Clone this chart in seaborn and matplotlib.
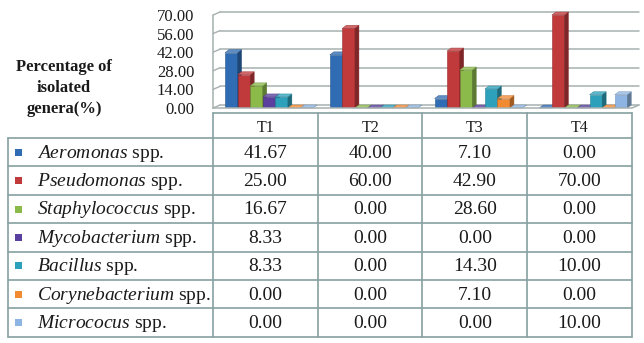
import numpy as np
import pandas as pd
import matplotlib
matplotlib.use("Agg")
import matplotlib.pyplot as plt
import matplotlib.colors as mcolors
from matplotlib.patches import Polygon, Rectangle
from matplotlib.lines import Line2D
from matplotlib.transforms import Affine2D, IdentityTransform
import seaborn as sns

# ---------------- data ----------------
treatments = ["T1", "T2", "T3", "T4"]
genera = ["Aeromonas", "Pseudomonas", "Staphylococcus", "Mycobacterium",
          "Bacillus", "Corynebacterium", "Micrococus"]
aeromonas = [41.67, 40.00, 7.10, 0.00]
pseudomonas = [25.00, 60.00, 42.90, 70.00]
staphylococcus = [16.67, 0.00, 28.60, 0.00]
mycobacterium = [8.33, 0.00, 0.00, 0.00]
bacillus = [8.33, 0.00, 14.30, 10.00]
corynebacterium = [0.00, 0.00, 7.10, 0.00]
micrococus = [0.00, 0.00, 0.00, 10.00]
y_ticks = [0, 14, 28, 42, 56, 70]
y_label = "Percentage of\nisolated\ngenera(%)"
colors = ["#2f6cb3", "#c03a3c", "#8cba4a", "#5a3f9e", "#2da1bb", "#f28a32", "#8db4e2"]

series = [aeromonas, pseudomonas, staphylococcus, mycobacterium,
          bacillus, corynebacterium, micrococus]
df = pd.DataFrame(
    [(t, g, v) for g, vals in zip(genera, series) for t, v in zip(treatments, vals)],
    columns=["Treatment", "Genus", "Value"],
)

# ---------------- style ----------------
sns.set_theme(style="white")
plt.rcParams["font.family"] = ["Liberation Serif", "DejaVu Serif"]
plt.rcParams["mathtext.fontset"] = "custom"
plt.rcParams["mathtext.rm"] = "Liberation Serif"
plt.rcParams["mathtext.it"] = "Liberation Serif:italic"
text_color = "#1a1a1a"
grid_color = "#a7b0b0"
table_color = "#86a0a0"

W, H = 644, 343
fig = plt.figure(figsize=(W / 100, H / 100), dpi=100)
fig.patch.set_facecolor("white")

def fx(px):
    return px / W

def fy(py):
    return 1 - py / H

ax_left, ax_right, ax_top, ax_bot = 213, 632, 15, 108
ax = fig.add_axes([fx(ax_left), fy(ax_bot), (ax_right - ax_left) / W, (ax_bot - ax_top) / H])
ax.set_facecolor("none")

sns.barplot(data=df, x="Treatment", y="Value", hue="Genus", order=treatments,
            hue_order=genera, palette=colors, width=0.84, saturation=1,
            legend=False, ax=ax)

ymax = y_ticks[-1]
px_per_x = (ax_right - ax_left) / len(treatments)
px_per_y = (ax_bot - ax_top) / ymax
dpx, dpy = 4.0, 3.0
ddx, ddy = dpx / px_per_x, dpy / px_per_y

for i, cont in enumerate(ax.containers):
    base = np.array(mcolors.to_rgb(colors[i]))
    side = tuple(base * 0.66)
    top = tuple(base + (1 - base) * 0.22)
    z = 3 + i * 0.1
    for bar in cont:
        x0, w, h = bar.get_x(), bar.get_width(), bar.get_height()
        x1 = x0 + w
        bar.set_zorder(z)
        bar.set_edgecolor(tuple(base * 0.8))
        bar.set_linewidth(0.4)
        ax.add_patch(Polygon([(x1, 0), (x1 + ddx, ddy), (x1 + ddx, h + ddy), (x1, h)],
                             closed=True, fc=side, ec=side, lw=0.3, zorder=z + 0.05, clip_on=False))
        ax.add_patch(Polygon([(x0, h), (x0 + ddx, h + ddy), (x1 + ddx, h + ddy), (x1, h)],
                             closed=True, fc=top, ec=tuple(base * 0.8), lw=0.3, zorder=z + 0.05, clip_on=False))

ax.set_xlim(-0.5 - 0.035, len(treatments) - 0.5 - 0.035)
ax.set_ylim(0, ymax)
ax.set_xticks([])
ax.set_yticks(y_ticks)
ax.set_yticklabels([f"{v:.2f}" for v in y_ticks])
ax.tick_params(axis="y", length=0, pad=13.5, labelsize=12, labelcolor=text_color)
ax.set_xlabel("")
ax.set_ylabel("")
for s in ax.spines.values():
    s.set_visible(False)

# back-wall gridlines (offset for 3D depth)
wall_shift = Affine2D().translate(7, 3)
for v in y_ticks:
    gl = ax.axhline(v, color=grid_color, lw=1.1, zorder=0.5)
    gl.set_transform(ax.get_yaxis_transform() + wall_shift)
    gl.set_clip_on(False)

# left wall and floor edges
ytr = ax.get_yaxis_transform()
ident = IdentityTransform()
for v in y_ticks:
    p0 = ytr.transform((0, v))
    fig.add_artist(Line2D([p0[0], p0[0] + 7], [p0[1], p0[1] + 3], color=grid_color,
                          lw=1.0, transform=ident, zorder=0.5))
pb = ytr.transform((0, 0))
pt = ytr.transform((0, ymax))
fig.add_artist(Line2D([pb[0], pt[0]], [pb[1], pt[1]], color=grid_color, lw=1.1,
                      transform=ident, zorder=0.5))
pr = ax.transAxes.transform((1, 0))
fig.add_artist(Line2D([pb[0], pr[0], pr[0] + 7], [pb[1], pr[1], pr[1] + 3],
                      color=grid_color, lw=1.1, transform=ident, zorder=0.5))

# y label
fig.text(fx(64), fy(88), y_label, ha="center", va="center", fontsize=12,
         fontweight="bold", linespacing=1.4, color=text_color)

# ---------------- data table ----------------
tax = fig.add_axes([0, 0, 1, 1], zorder=-1)
tax.set_xlim(0, W)
tax.set_ylim(H, 0)
tax.axis("off")

table_left = 8
col_edges = np.linspace(ax_left, ax_right, len(treatments) + 1)
header_top, header_bot = 113, 138
row_h = 28.4
row_edges = header_bot + row_h * np.arange(len(genera) + 1)
lw_t = 1.2

tax.plot([col_edges[0], col_edges[-1]], [header_top, header_top], color=table_color, lw=lw_t)
for ye in row_edges:
    tax.plot([table_left, col_edges[-1]], [ye, ye], color=table_color, lw=lw_t)
tax.plot([table_left, table_left], [row_edges[0], row_edges[-1]], color=table_color, lw=lw_t)
for xe in col_edges:
    tax.plot([xe, xe], [header_top, row_edges[-1]], color=table_color, lw=lw_t)

centers = (col_edges[:-1] + col_edges[1:]) / 2
for c, t in zip(centers, treatments):
    tax.text(c, (header_top + header_bot) / 2 + 2.5, t, ha="center", va="center",
             fontsize=11.5, color=text_color)

for r, (g, vals, col) in enumerate(zip(genera, series, colors)):
    yc = (row_edges[r] + row_edges[r + 1]) / 2
    tax.add_patch(Rectangle((15.5, yc - 3.5), 7, 7, fc=col, ec="none"))
    tax.text(37, yc + 1, rf"$\mathit{{{g}}}$ spp.", ha="left", va="center",
             fontsize=14, color=text_color)
    for c, v in zip(centers, vals):
        tax.text(c, yc + 1, f"{v:.2f}", ha="center", va="center", fontsize=14,
                 color=text_color)

fig.savefig("out.png", dpi=100, facecolor="white")
